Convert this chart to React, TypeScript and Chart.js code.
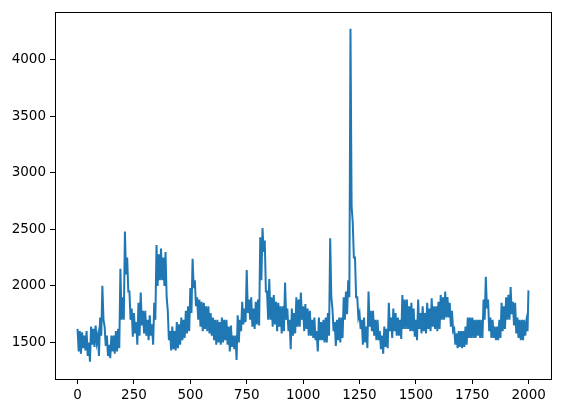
import React, { useEffect, useRef } from "react";
import { Chart, registerables } from "chart.js";

Chart.register(...registerables);

// Each slot covers 10 x-units: the line reaches the band's upper value at the
// slot start and the lower value half-way through.
const SLOT = 10;
const LAST_X = 1999;
const LAST_VALUE = 1960;

const bandHigh: number[] = [
  1620, 1600, 1590, 1560, 1600, 1500, 1640, 1620, 1650, 1560,
  1720, 2000, 1640, 1560, 1480, 1560, 1560, 1600, 1620, 2150,
  1900, 2480, 2250, 1950, 1800, 1760, 1680, 1850, 1940, 1780,
  1780, 1700, 1740, 1660, 1850, 2360, 2280, 2330, 2250, 2300,
  1780, 1600, 1640, 1600, 1680, 1660, 1720, 1700, 1780, 1820,
  1980, 2240, 2050, 1900, 1880, 1860, 1850, 1820, 1820, 1760,
  1720, 1700, 1700, 1680, 1720, 1700, 1700, 1640, 1650, 1560,
  1560, 1740, 1700, 1860, 1800, 2140, 1880, 1900, 1800, 1860,
  1880, 2430, 2510, 2400, 1950, 2060, 1900, 1920, 1860, 1850,
  1820, 1820, 2030, 1800, 1700, 1800, 1760, 1900, 1880, 1940,
  1820, 1840, 1800, 1780, 1700, 1720, 1600, 1720, 1680, 1700,
  1720, 1760, 2420, 1800, 1680, 1700, 1720, 1720, 1900, 1950,
  2050, 4272, 2560, 2250, 1900, 1760, 1700, 1720, 1640, 1950,
  1780, 1780, 1700, 1700, 1600, 1560, 1640, 1620, 1850, 1720,
  1800, 1760, 1720, 1700, 1920, 1880, 1880, 1820, 1850, 1800,
  1700, 1880, 1760, 1820, 1760, 1850, 1800, 1890, 1820, 1820,
  1860, 1920, 1900, 1950, 1900, 1850, 1780, 1620, 1580, 1600,
  1600, 1600, 1640, 1720, 1720, 1720, 1700, 1700, 1700, 1700,
  1880, 2080, 1880, 1720, 1700, 1640, 1640, 1700, 1850, 1820,
  1900, 1920, 1990, 1860, 1850, 1720, 1700, 1700, 1700, 1680,
];

const bandLow: number[] = [
  1420, 1400, 1450, 1430, 1380, 1330, 1480, 1460, 1500, 1380,
  1560, 1700, 1470, 1380, 1360, 1420, 1400, 1420, 1450, 1700,
  1700, 2100, 1950, 1700, 1550, 1580, 1480, 1560, 1650, 1580,
  1560, 1520, 1560, 1480, 1700, 2000, 2050, 2050, 2000, 1900,
  1520, 1430, 1440, 1430, 1450, 1480, 1520, 1540, 1580, 1600,
  1760, 1980, 1820, 1700, 1640, 1600, 1620, 1600, 1580, 1560,
  1520, 1480, 1500, 1480, 1500, 1520, 1480, 1420, 1460, 1440,
  1345, 1500, 1600, 1660, 1680, 1760, 1700, 1640, 1620, 1660,
  1650, 2050, 2300, 1950, 1700, 1700, 1640, 1660, 1600, 1640,
  1580, 1600, 1700, 1600, 1440, 1560, 1580, 1640, 1640, 1700,
  1600, 1620, 1560, 1560, 1540, 1520, 1420, 1520, 1520, 1500,
  1500, 1560, 1900, 1600, 1470, 1520, 1500, 1540, 1700, 1750,
  1900, 2700, 2250, 1900, 1720, 1620, 1480, 1500, 1450, 1640,
  1600, 1560, 1520, 1520, 1440, 1400, 1460, 1450, 1600, 1540,
  1600, 1560, 1560, 1530, 1620, 1620, 1620, 1600, 1600, 1550,
  1520, 1620, 1580, 1600, 1580, 1620, 1600, 1640, 1620, 1600,
  1620, 1700, 1700, 1720, 1720, 1640, 1600, 1480, 1450, 1460,
  1450, 1460, 1480, 1540, 1540, 1540, 1540, 1560, 1540, 1540,
  1700, 1800, 1600, 1540, 1540, 1520, 1520, 1540, 1600, 1620,
  1700, 1700, 1750, 1650, 1580, 1540, 1520, 1520, 1560, 1600,
];

const xTicks = [0, 250, 500, 750, 1000, 1250, 1500, 1750, 2000];
const yTicks = [1500, 2000, 2500, 3000, 3500, 4000];
const X_MIN = -100;
const X_MAX = 2099;
const Y_MIN = 1177;
const Y_MAX = 4419;

const framePlugin = {
  id: "frame",
  afterDraw(chart: any) {
    const { ctx, chartArea } = chart;
    ctx.save();
    ctx.strokeStyle = "#000";
    ctx.lineWidth = 1;
    ctx.strokeRect(
      Math.round(chartArea.left) + 0.5,
      Math.round(chartArea.top) + 0.5,
      Math.round(chartArea.right - chartArea.left),
      Math.round(chartArea.bottom - chartArea.top)
    );
    ctx.restore();
  },
};

export default function App() {
  const ref = useRef<HTMLCanvasElement | null>(null);
  useEffect(() => {
    if (!ref.current) return;
    const points: { x: number; y: number }[] = [];
    bandHigh.forEach((hi, i) => {
      points.push({ x: i * SLOT, y: hi });
      points.push({ x: i * SLOT + SLOT / 2, y: bandLow[i] });
    });
    points.push({ x: LAST_X, y: LAST_VALUE });
    const font = { family: "DejaVu Sans", size: 13.5 };
    const chart = new Chart(ref.current, {
      type: "line",
      data: {
        datasets: [
          {
            data: points,
            borderColor: "#1f77b4",
            borderWidth: 2,
            pointRadius: 0,
            tension: 0,
            fill: false,
          },
        ],
      },
      options: {
        animation: false,
        responsive: false,
        parsing: false as any,
        layout: { padding: { left: 0, top: 11, right: 10, bottom: 4 } },
        plugins: { legend: { display: false }, tooltip: { enabled: false } },
        scales: {
          x: {
            type: "linear",
            min: X_MIN,
            max: X_MAX,
            afterBuildTicks: (s: any) => {
              s.ticks = xTicks.map((v) => ({ value: v }));
            },
            afterFit: (s: any) => {
              s.height = 30;
            },
            ticks: {
              color: "#000",
              font,
              padding: 3,
              maxRotation: 0,
              autoSkip: false,
              callback: (v: any) => String(v),
            },
            grid: { drawOnChartArea: false, tickLength: 5, tickColor: "#000", tickWidth: 1 },
            border: { color: "#000", width: 1 },
          },
          y: {
            type: "linear",
            min: Y_MIN,
            max: Y_MAX,
            afterBuildTicks: (s: any) => {
              s.ticks = yTicks.map((v) => ({ value: v }));
            },
            afterFit: (s: any) => {
              s.width = 55;
            },
            ticks: {
              color: "#000",
              font,
              padding: 4,
              autoSkip: false,
              callback: (v: any) => String(v),
            },
            grid: { drawOnChartArea: false, tickLength: 5, tickColor: "#000", tickWidth: 1 },
            border: { color: "#000", width: 1 },
          },
        },
      },
      plugins: [framePlugin],
    });
    return () => chart.destroy();
  }, []);
  return (
    <canvas
      ref={ref}
      width={561}
      height={413}
      style={{ position: "fixed", left: 0, top: 0, display: "block", background: "#fff" }}
    />
  );
}
